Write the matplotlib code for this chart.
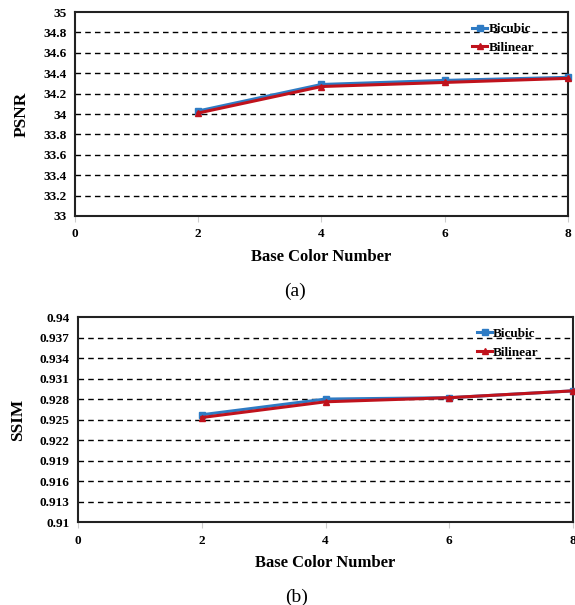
import matplotlib
matplotlib.use("Agg")
import matplotlib.pyplot as plt

plt.rcParams['font.family'] = ['Liberation Serif', 'DejaVu Serif']

x = [2, 4, 6, 8]
psnr_bicubic = [34.03, 34.29, 34.33, 34.36]
psnr_bilinear = [34.01, 34.27, 34.31, 34.35]
ssim_bicubic = [0.9257, 0.9280, 0.9282, 0.9292]
ssim_bilinear = [0.9253, 0.9276, 0.9282, 0.9292]
psnr_ticks = [33, 33.2, 33.4, 33.6, 33.8, 34, 34.2, 34.4, 34.6, 34.8, 35]
psnr_labels = ['33', '33.2', '33.4', '33.6', '33.8', '34', '34.2', '34.4', '34.6', '34.8', '35']
ssim_ticks = [0.91, 0.913, 0.916, 0.919, 0.922, 0.925, 0.928, 0.931, 0.934, 0.937, 0.94]
ssim_labels = ['0.91', '0.913', '0.916', '0.919', '0.922', '0.925', '0.928', '0.931', '0.934', '0.937', '0.94']
x_ticks = [0, 2, 4, 6, 8]

blue = '#2e7bc4'
red = '#c0121c'

fig = plt.figure(figsize=(5.75, 6.05), dpi=100)
ax1 = fig.add_axes([0.1304, 0.643, 0.8574, 0.337])
ax2 = fig.add_axes([0.1357, 0.137, 0.8608, 0.339])


def style(ax, bic, bil, ticks, labels, ylabel, ylim):
    ax.plot(x, bic, color=blue, lw=2.2, marker='s', ms=5, label='Bicubic', zorder=3, clip_on=False)
    ax.plot(x, bil, color=red, lw=2.2, marker='^', ms=5, label='Bilinear', zorder=4, clip_on=False)
    ax.set_xlim(0, 8)
    ax.set_ylim(*ylim)
    ax.set_yticks(ticks)
    ax.set_yticklabels(labels, fontsize=9.5, fontweight='bold')
    ax.set_xticks(x_ticks)
    ax.set_xticklabels([str(t) for t in x_ticks], fontsize=9.5, fontweight='bold')
    ax.tick_params(axis='y', length=0, pad=6)
    ax.tick_params(axis='x', length=4, color='#cccccc', pad=5)
    for t in ticks[1:-1]:
        ax.axhline(t, color='black', lw=1, ls=(0, (4, 3)), zorder=1)
    for s in ax.spines.values():
        s.set_linewidth(1.5)
        s.set_color('#222222')
    ax.set_ylabel(ylabel, fontsize=12.5, fontweight='bold', labelpad=10)
    ax.set_xlabel('Base Color Number', fontsize=12, fontweight='bold', labelpad=6)
    ax.legend(loc='upper right', bbox_to_anchor=(0.955, 1.005), frameon=False,
              prop={'weight': 'bold', 'size': 9.5}, handlelength=1.1,
              handletextpad=0.1, labelspacing=0.5, markerscale=0.8)


style(ax1, psnr_bicubic, psnr_bilinear, psnr_ticks, psnr_labels, 'PSNR', (33, 35))
style(ax2, ssim_bicubic, ssim_bilinear, ssim_ticks, ssim_labels, 'SSIM', (0.91, 0.94))

fig.text(0.513, 0.519, '(a)', fontsize=14, ha='center', va='center')
fig.text(0.515, 0.012, '(b)', fontsize=14, ha='center', va='center')

fig.savefig('out.png', dpi=100)
